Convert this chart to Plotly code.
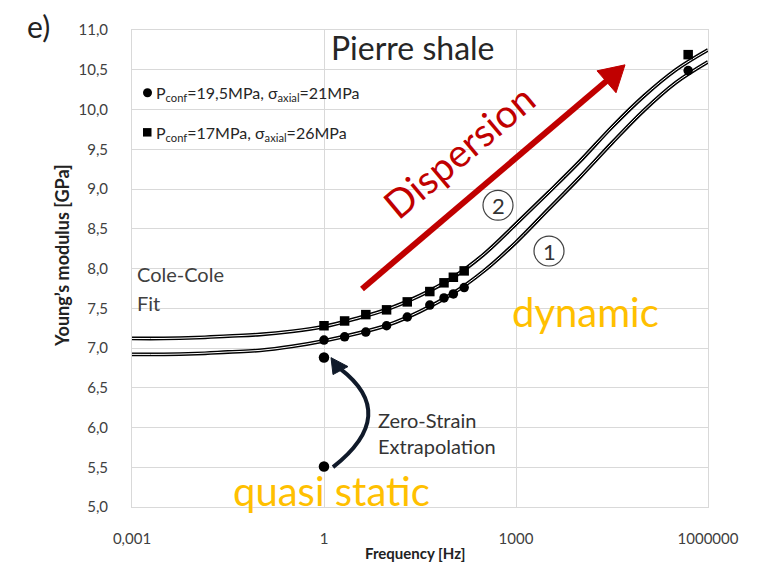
import plotly.graph_objects as go

# ---------------- data ----------------
# Cole-Cole fit curves, log10(frequency) vs Young's modulus
fit_logf = [-3, -2.5, -2, -1.5, -1, -0.5, 0, 0.5, 1, 1.5, 2, 2.5, 3, 3.5, 4, 4.5, 5, 5.5, 6]
fit2_E = [7.12, 7.12, 7.13, 7.15, 7.17, 7.21, 7.27, 7.37, 7.49, 7.66, 7.88, 8.18, 8.56, 8.95, 9.35, 9.78, 10.17, 10.50, 10.75]
fit1_E = [6.92, 6.92, 6.93, 6.95, 6.97, 7.02, 7.09, 7.18, 7.29, 7.46, 7.68, 7.97, 8.33, 8.74, 9.15, 9.58, 9.99, 10.34, 10.60]

# measured points
meas_f = [1, 2.1, 4.5, 9.5, 20, 45, 75, 105, 155, 490000]
circ_E = [7.10, 7.14, 7.20, 7.28, 7.39, 7.54, 7.63, 7.68, 7.76, 10.49]
sq_E = [7.28, 7.34, 7.42, 7.48, 7.58, 7.71, 7.82, 7.89, 7.97, 10.69]

# quasi static / zero-strain points
qs_f = [1, 1]
qs_E = [6.88, 5.51]

x_tickvals = [0.001, 1, 1000, 1000000]
x_ticktext = ["0,001", "1", "1000", "1000000"]
y_tickvals = [5.0, 5.5, 6.0, 6.5, 7.0, 7.5, 8.0, 8.5, 9.0, 9.5, 10.0, 10.5, 11.0]
y_ticktext = ["5,0", "5,5", "6,0", "6,5", "7,0", "7,5", "8,0", "8,5", "9,0", "9,5", "10,0", "10,5", "11,0"]

# ---------------- layout helpers ----------------
PAGE_OFF = 8  # default body margin of the html page
W, H = 759 - PAGE_OFF, 569 - PAGE_OFF
L, R, T, B = 132, 708, 28, 507  # plot area in page pixels


def px(x):
    return (x - L) / (R - L)


def py(y):
    return (B - y) / (B - T)


FONT = "Lato, 'Open Sans', sans-serif"

fit_f = [10 ** v for v in fit_logf]

fig = go.Figure()
for E in (fit1_E, fit2_E):
    fig.add_trace(go.Scatter(x=fit_f, y=E, mode="lines", line=dict(color="black", width=3.8, shape="spline"),
                             hoverinfo="skip", showlegend=False))
    fig.add_trace(go.Scatter(x=fit_f, y=E, mode="lines", line=dict(color="white", width=1.0, shape="spline"),
                             hoverinfo="skip", showlegend=False))

fig.add_trace(go.Scatter(x=meas_f, y=circ_E, mode="markers",
                         marker=dict(symbol="circle", size=9.5, color="black"), showlegend=False))
fig.add_trace(go.Scatter(x=meas_f, y=sq_E, mode="markers",
                         marker=dict(symbol="square", size=9.5, color="black"), showlegend=False))
fig.add_trace(go.Scatter(x=qs_f, y=qs_E, mode="markers",
                         marker=dict(symbol="circle", size=10.5, color="black"), showlegend=False))

shapes = []
# red dispersion arrow
shapes.append(dict(type="line", xref="paper", yref="paper",
                   x0=px(362), y0=py(288), x1=px(608), y1=py(78),
                   line=dict(color="#C00000", width=6)))
shapes.append(dict(type="path", xref="paper", yref="paper",
                   path=f"M {px(625)} {py(63)} L {px(597)} {py(69)} L {px(616)} {py(91)} Z",
                   fillcolor="#C00000", line=dict(color="#C00000", width=1)))
# curved zero-strain arrow
shapes.append(dict(type="path", xref="paper", yref="paper",
                   path=f"M {px(333)} {py(467)} Q {px(400)} {py(414)} {px(340)} {py(368)}",
                   line=dict(color="#101a2a", width=4)))
shapes.append(dict(type="path", xref="paper", yref="paper",
                   path=f"M {px(331)} {py(357)} L {px(333)} {py(374)} L {px(348)} {py(366)} Z",
                   fillcolor="#101a2a", line=dict(color="#101a2a", width=1)))
# circled numbers
for cx, cy in ((498, 204), (549, 250)):
    shapes.append(dict(type="circle", xref="paper", yref="paper",
                       x0=px(cx - 15), x1=px(cx + 15), y0=py(cy + 15), y1=py(cy - 15),
                       line=dict(color="#404040", width=1.2)))
# legend symbols
shapes.append(dict(type="circle", xref="paper", yref="paper",
                   x0=px(143), x1=px(152), y0=py(95.5), y1=py(86.5),
                   fillcolor="black", line=dict(color="black", width=0)))
shapes.append(dict(type="rect", xref="paper", yref="paper",
                   x0=px(143), x1=px(151.5), y0=py(135), y1=py(126.5),
                   fillcolor="black", line=dict(color="black", width=0)))

ann = []


def add_text(text, x, y, size, color="#333333", xanchor="center", angle=0, bold=False):
    if bold:
        text = f"<b>{text}</b>"
    ann.append(dict(text=text, xref="paper", yref="paper", x=px(x), y=py(y), xanchor=xanchor,
                    yanchor="middle", showarrow=False, textangle=angle,
                    font=dict(family=FONT, size=size, color=color)))


add_text("e)", 38, 24, 30, "#222222")
add_text("Pierre shale", 413, 46, 32, "#262626")
add_text("P<sub>conf</sub>=19,5MPa, σ<sub>axial</sub>=21MPa", 154, 92, 16, "#262626", "left")
add_text("P<sub>conf</sub>=17MPa, σ<sub>axial</sub>=26MPa", 154, 132, 16, "#262626", "left")
add_text("Cole-Cole", 135, 273, 20, "#404040", "left")
add_text("Fit", 135, 302, 20, "#404040", "left")
add_text("Zero-Strain", 376, 420, 20, "#333333", "left")
add_text("Extrapolation", 376, 446, 20, "#333333", "left")
add_text("dynamic", 585, 311, 40, "#FFC000")
add_text("quasi static", 331, 491, 40, "#FFC000")
add_text("Dispersion", 459, 150, 39, "#C00000", angle=-40)
add_text("2", 498, 204, 22, "#333333")
add_text("1", 549, 250, 22, "#333333")
add_text("Young’s modulus [GPa]", 62, 255, 18, "#222222", bold=True, angle=-90)
add_text("Frequency [Hz]", 415, 553, 15, "#222222", bold=True)

fig.update_layout(
    width=W, height=H,
    margin=dict(l=L - PAGE_OFF, r=W + PAGE_OFF - R, t=T - PAGE_OFF, b=H + PAGE_OFF - B),
    plot_bgcolor="white", paper_bgcolor="white",
    shapes=shapes, annotations=ann,
    showlegend=False,
)
fig.update_xaxes(type="log", range=[-3, 6], tickvals=x_tickvals, ticktext=x_ticktext,
                 showgrid=True, gridcolor="#d9d9d9", gridwidth=1,
                 showline=True, linecolor="#d9d9d9", mirror=True, zeroline=False,
                 ticks="", ticklabelstandoff=18,
                 tickfont=dict(family=FONT, size=15, color="#404040"))
fig.update_yaxes(range=[5, 11], tickvals=y_tickvals, ticktext=y_ticktext,
                 showgrid=True, gridcolor="#d9d9d9", gridwidth=1,
                 showline=True, linecolor="#d9d9d9", mirror=True, zeroline=False,
                 ticks="", ticklabelstandoff=20,
                 tickfont=dict(family=FONT, size=15, color="#404040"))

fig.write_html("out.html")
